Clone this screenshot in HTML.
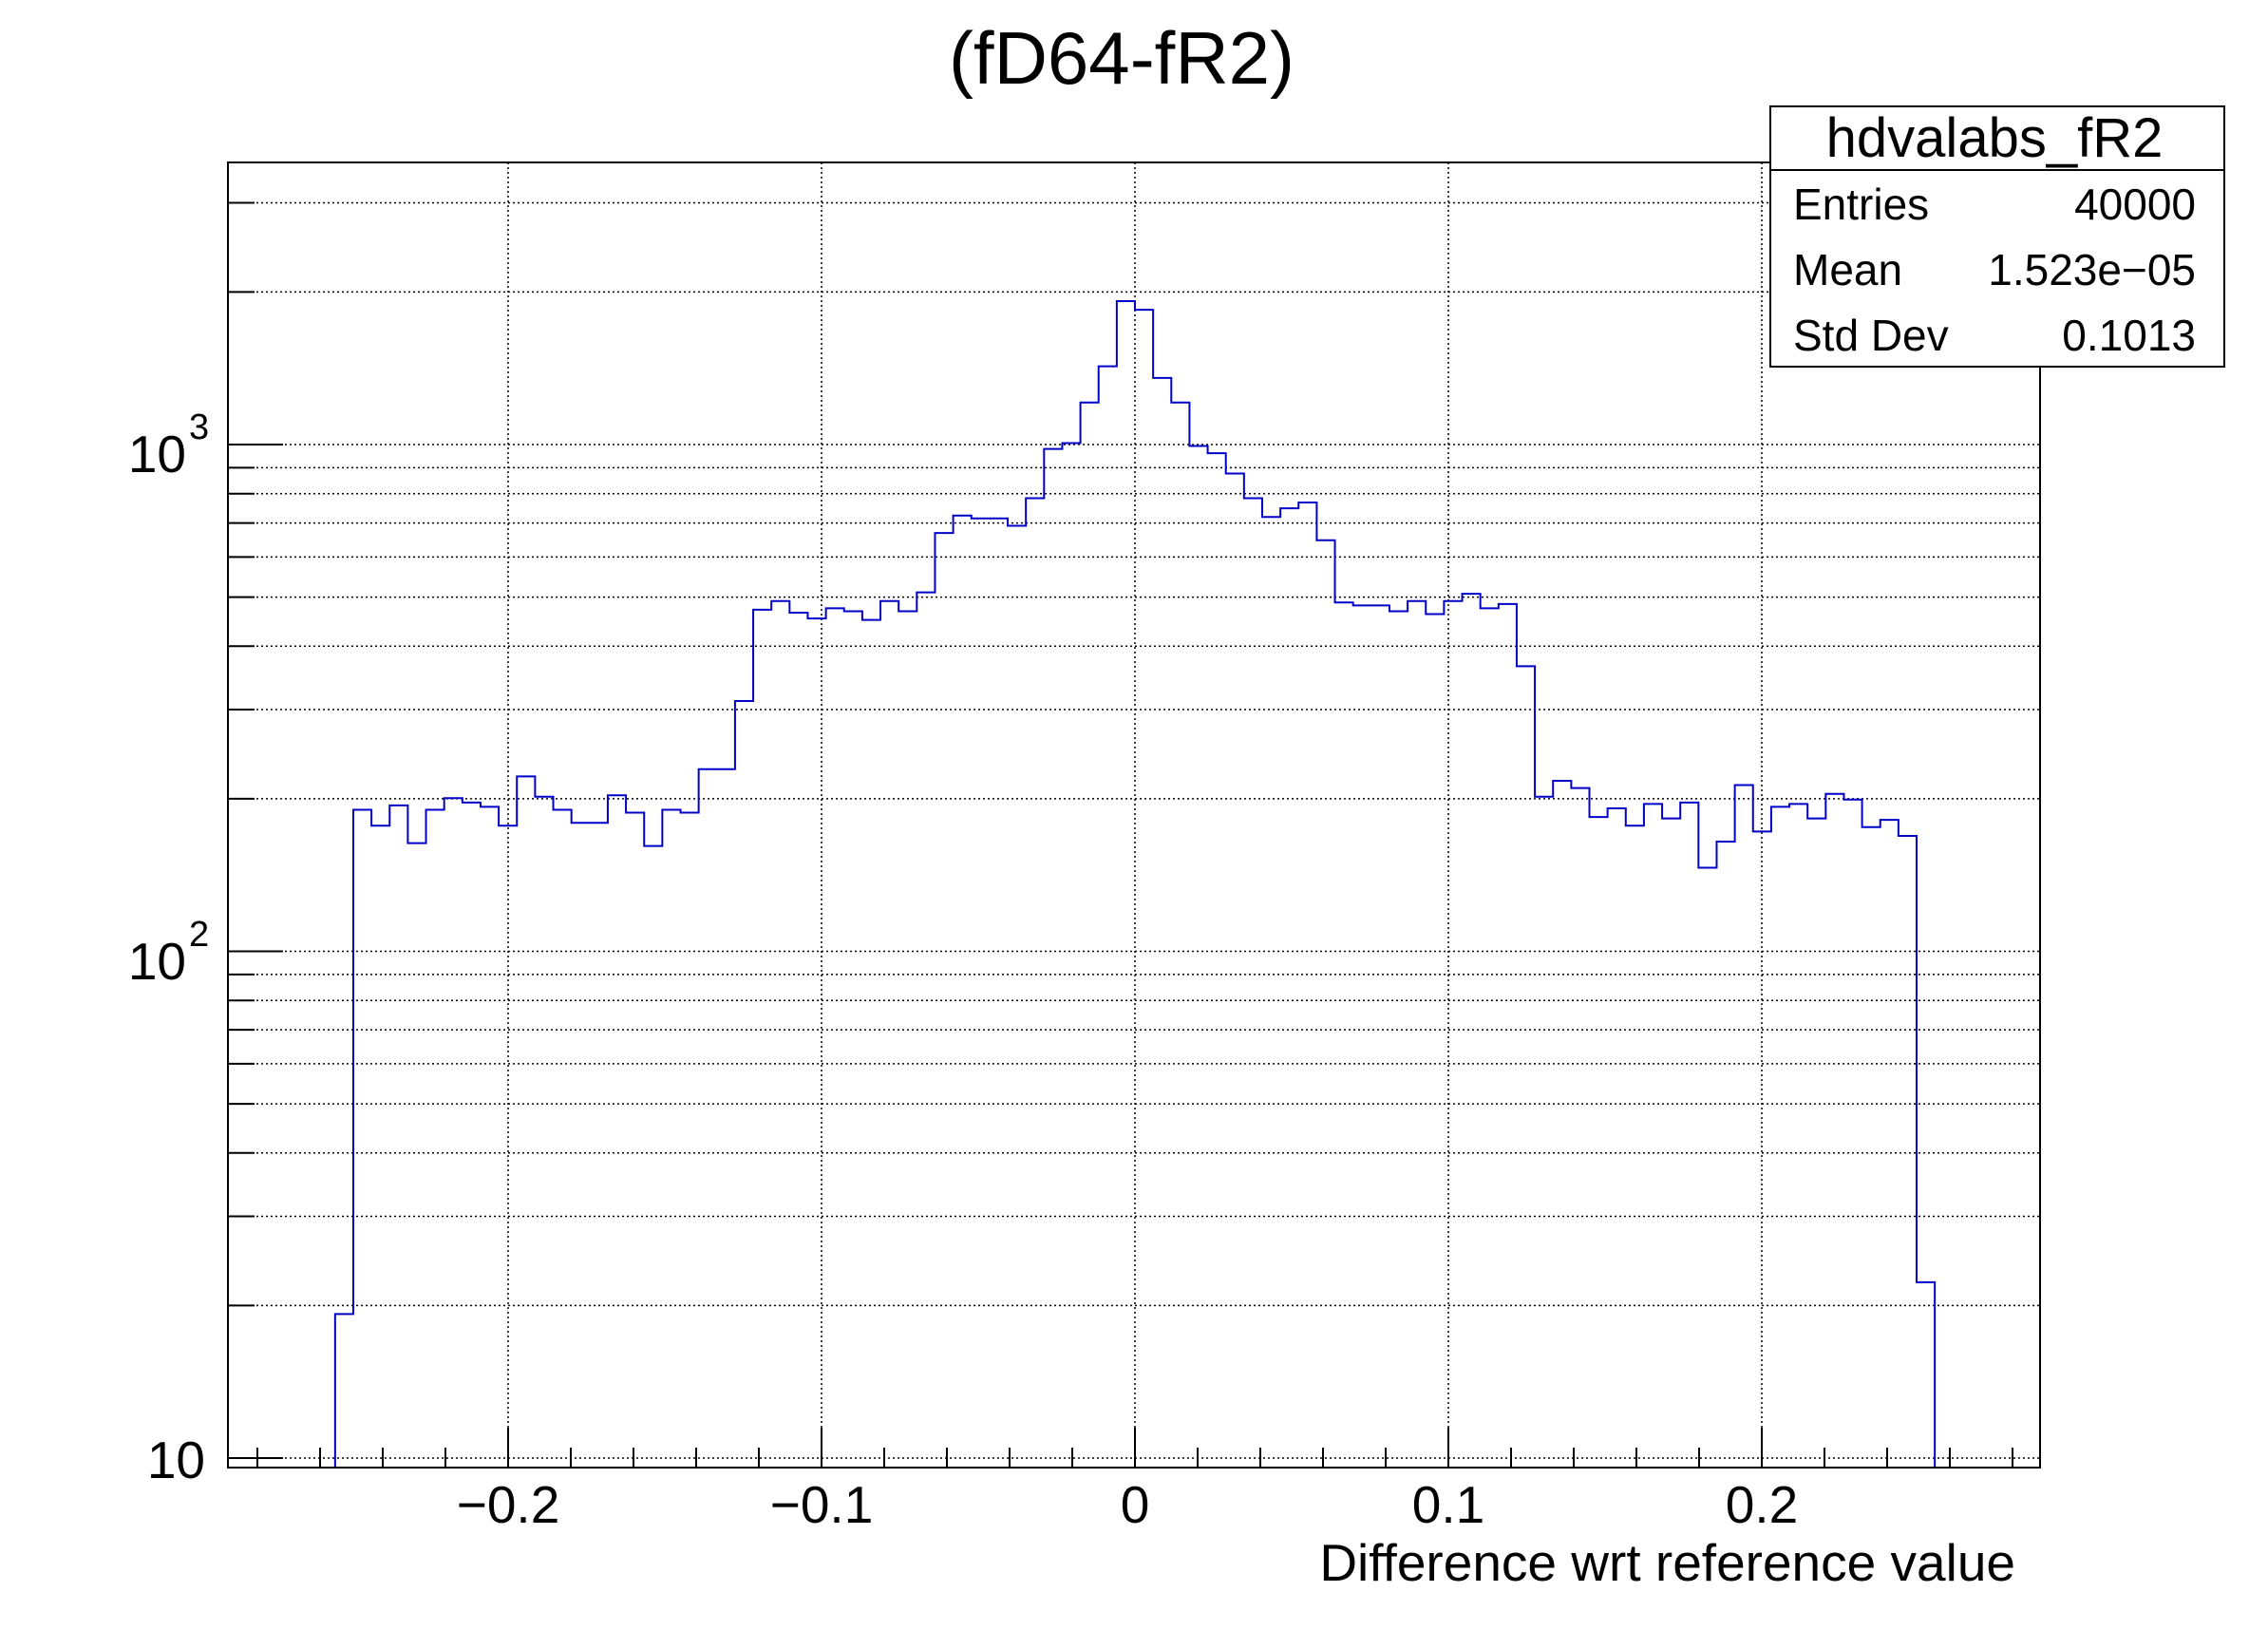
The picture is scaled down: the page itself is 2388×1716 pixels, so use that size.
<!DOCTYPE html>
<html><head><meta charset="utf-8"><style>
html,body{margin:0;padding:0;background:#fff;}
svg{display:block;font-family:"Liberation Sans",sans-serif;}
</style></head><body>
<svg id="s" width="2388" height="1716" xmlns="http://www.w3.org/2000/svg">
<rect width="2388" height="1716" fill="#fff"/>
<g id="grid" stroke="#000" stroke-width="1.5" stroke-dasharray="2,3" fill="none"></g>
<g id="ticks" stroke="#000" stroke-width="2" fill="none"></g>
<path id="h" fill="none" stroke="#0000c8" stroke-width="2"/>
<rect x="240" y="171" width="1908" height="1374" fill="none" stroke="#000" stroke-width="2"/>
<text x="1181" y="88" font-size="78" text-anchor="middle">(fD64-fR2)</text>
<g font-size="55" text-anchor="middle">
<text x="535" y="1603">−0.2</text>
<text x="865" y="1603">−0.1</text>
<text x="1195" y="1603">0</text>
<text x="1525" y="1603">0.1</text>
<text x="1855" y="1603">0.2</text>
</g>
<text x="2122" y="1664" font-size="55" text-anchor="end">Difference wrt reference value</text>
<g font-size="55" text-anchor="end">
<text x="216" y="1556">10</text>
<text x="196" y="497">10</text>
<text x="196" y="1031">10</text>
</g>
<g font-size="38">
<text x="199" y="462">3</text>
<text x="199" y="996">2</text>
</g>
<rect x="1864" y="112" width="478" height="274" fill="#fff" stroke="#000" stroke-width="2"/>
<line x1="1864" y1="179" x2="2342" y2="179" stroke="#000" stroke-width="2"/>
<text x="2100" y="165" font-size="58" text-anchor="middle">hdvalabs_fR2</text>
<g font-size="46">
<text x="1888" y="231">Entries</text>
<text x="1888" y="300">Mean</text>
<text x="1888" y="369">Std Dev</text>
</g>
<g font-size="46" text-anchor="end">
<text x="2312" y="231">40000</text>
<text x="2312" y="300">1.523e−05</text>
<text x="2312" y="369">0.1013</text>
</g>
</svg>
<script>
var NS="http://www.w3.org/2000/svg";
function Y(v){return 1535-533.5*(Math.log10(v)-1);}
function X(x){return 1195+x*3300;}
function line(g,x1,y1,x2,y2){var l=document.createElementNS(NS,"line");l.setAttribute("x1",x1);l.setAttribute("y1",y1);l.setAttribute("x2",x2);l.setAttribute("y2",y2);document.getElementById(g).appendChild(l);}
var vals=[];
[1,2,3,4,5,6,7,8,9].forEach(function(m){[10,100,1000].forEach(function(d){var v=m*d;if(v<=3600)vals.push(v);});});
vals.forEach(function(v){var y=Y(v);var maj=(v==10||v==100||v==1000);line("grid",240,y,2148,y);line("ticks",240,y,maj?298:268,y);});
for(var i=-14;i<=14;i++){var x=X(i*0.02);var maj=(i%5==0);line("ticks",x,1545,x,maj?1503:1524);}
[-0.2,-0.1,0,0.1,0.2].forEach(function(v){var x=X(v);line("grid",x,171,x,1545);line("ticks",x,1545,x,1503);});
var yd=[908,560,571,557,583,560,552,555,558,571,537,551,560,569,569,550,562,585,560,562,532,532,485,422,416,424,428,421,423,429,416,423,410,369,357,359,359,364,345,311,307,279,254,209,215,262,279,309,314,328,345,358,352,348,374,417,419,419,423,416,425,416,411,421,418,461,551,540,545,565,559,571,556,566,555,600,582,543,575,558,556,566,549,553,572,567,578,886];
var d="M"+X(-0.29+0.0058*6)+",1545";
for(var k=0;k<yd.length;k++){var b=k+6;var x0=X(-0.29+0.0058*b),x1=X(-0.29+0.0058*(b+1));var y=468+(yd[k]-308)*1.5257;d+=" L"+x0+","+y+" L"+x1+","+y;}
d+=" L"+X(-0.29+0.0058*94)+",1545";
document.getElementById("h").setAttribute("d",d);
</script>
</body></html>
